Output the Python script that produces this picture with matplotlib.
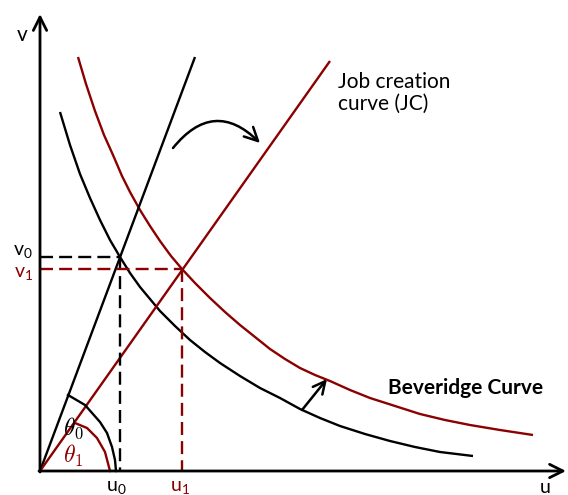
import numpy as np
import matplotlib
matplotlib.use("Agg")
import matplotlib.pyplot as plt
from matplotlib.patches import FancyArrowPatch

plt.rcParams['font.family'] = ['Lato', 'DejaVu Sans']
plt.rcParams['mathtext.fontset'] = 'custom'
plt.rcParams['mathtext.rm'] = 'Lato'
plt.rcParams['mathtext.it'] = 'Lato:italic'
plt.rcParams['mathtext.bf'] = 'Lato:bold'

RED = '#8b0000'

# Beveridge curve, before (black) and after the shift (red)
bc0_u = [0.20, 0.30, 0.40, 0.50, 0.60, 0.70, 0.80, 0.90, 1.00, 1.10, 1.20, 1.35, 1.50, 1.65, 1.80,
         2.00, 2.20, 2.40, 2.60, 2.80, 3.00, 3.25, 3.50, 3.75, 4.00, 4.33]
bc0_v = [3.59, 3.26, 2.97, 2.73, 2.51, 2.31, 2.14, 1.98, 1.84, 1.72, 1.60, 1.45, 1.31, 1.19, 1.08,
         0.95, 0.83, 0.73, 0.62, 0.53, 0.45, 0.37, 0.30, 0.24, 0.19, 0.15]
bc1_u = [0.38, 0.46, 0.55, 0.64, 0.73, 0.82, 0.90, 1.00, 1.10, 1.20, 1.31, 1.42, 1.55, 1.70, 1.85,
         2.00, 2.15, 2.30, 2.45, 2.60, 2.75, 2.90, 3.10, 3.30, 3.55, 3.80, 4.05, 4.30, 4.60, 4.93]
bc1_v = [4.14, 3.87, 3.60, 3.36, 3.16, 2.95, 2.79, 2.61, 2.45, 2.30, 2.15, 2.02, 1.88, 1.73, 1.59,
         1.46, 1.34, 1.22, 1.12, 1.03, 0.96, 0.90, 0.81, 0.73, 0.65, 0.57, 0.51, 0.46, 0.41, 0.36]

# job creation lines from the origin (end points)
jc0_u = [0.0, 1.55]
jc0_v = [0.0, 4.14]
jc1_u = [0.0, 2.90]
jc1_v = [0.0, 4.10]

# equilibria
u0, v0 = 0.80, 2.14
u1, v1 = 1.42, 2.02

# angle marks
th0_u = [0.28, 0.45, 0.60, 0.67, 0.72, 0.75, 0.76]
th0_v = [0.76, 0.66, 0.49, 0.38, 0.24, 0.11, 0.00]
th1_u = [0.35, 0.47, 0.57, 0.65, 0.70]
th1_v = [0.48, 0.43, 0.33, 0.19, 0.00]

fig = plt.figure(figsize=(5.68, 4.95), dpi=100)
ax = fig.add_axes([0, 0, 1, 1])
ax.set_xlim(-0.40, 5.28)
ax.set_ylim(-0.24, 4.71)
ax.axis('off')

lw = 1.7
# axes with arrows
ax.annotate('', xy=(0, 4.57), xytext=(0, -0.01),
            arrowprops=dict(arrowstyle='->', lw=2.0, color='black', mutation_scale=24, shrinkA=0, shrinkB=0))
ax.annotate('', xy=(5.26, 0), xytext=(-0.01, 0),
            arrowprops=dict(arrowstyle='->', lw=2.0, color='black', mutation_scale=24, shrinkA=0, shrinkB=0))

ax.plot(bc0_u, bc0_v, color='black', lw=lw, solid_capstyle='butt')
ax.plot(bc1_u, bc1_v, color=RED, lw=lw, solid_capstyle='butt')
ax.plot(jc0_u, jc0_v, color='black', lw=lw, solid_capstyle='butt')
ax.plot(jc1_u, jc1_v, color=RED, lw=lw, solid_capstyle='butt')

dash = (0, (5.5, 2.6))
ax.plot([0, u0], [v0, v0], color='black', lw=lw, ls=dash)
ax.plot([u0, u0], [v0, 0], color='black', lw=lw, ls=dash)
ax.plot([0, u1], [v1, v1], color=RED, lw=lw, ls=dash)
ax.plot([u1, u1], [v1, 0], color=RED, lw=lw, ls=dash)

ax.plot(th0_u, th0_v, color='black', lw=lw)
ax.plot(th1_u, th1_v, color=RED, lw=lw)

# shift arrows
ax.add_patch(FancyArrowPatch((1.33, 3.23), (2.20, 3.28), connectionstyle='arc3,rad=-0.55',
                             arrowstyle='->', mutation_scale=24, lw=1.8, color='black',
                             shrinkA=0, shrinkB=0))
ax.add_patch(FancyArrowPatch((2.62, 0.61), (2.87, 0.92), arrowstyle='->', mutation_scale=22,
                             lw=1.8, color='black', shrinkA=0, shrinkB=0))

fs = 15
ax.text(-0.18, 4.36, 'v', fontsize=fs, ha='center', va='center')
ax.text(5.05, -0.08, 'u', fontsize=14, ha='center', va='top')
ax.text(-0.07, v0 + 0.05, 'v$_0$', fontsize=14, ha='right', va='center')
ax.text(-0.07, v1 - 0.04, 'v$_1$', fontsize=14, ha='right', va='center', color=RED)
ax.text(u0 - 0.04, -0.08, 'u$_0$', fontsize=14, ha='center', va='top')
ax.text(u1 - 0.02, -0.08, 'u$_1$', fontsize=14, ha='center', va='top', color=RED)
ax.text(0.33, 0.43, r'$\theta_0$', fontsize=17, ha='center', va='center', math_fontfamily='cm')
ax.text(0.33, 0.15, r'$\theta_1$', fontsize=17, ha='center', va='center', math_fontfamily='cm', color=RED)
ax.text(2.98, 3.78, 'Job creation\ncurve (JC)', fontsize=fs, ha='left', va='center', linespacing=1.15)
ax.text(3.48, 0.83, 'Beveridge Curve', fontsize=fs, ha='left', va='center', fontweight='bold')

fig.savefig('out.png', dpi=100)
